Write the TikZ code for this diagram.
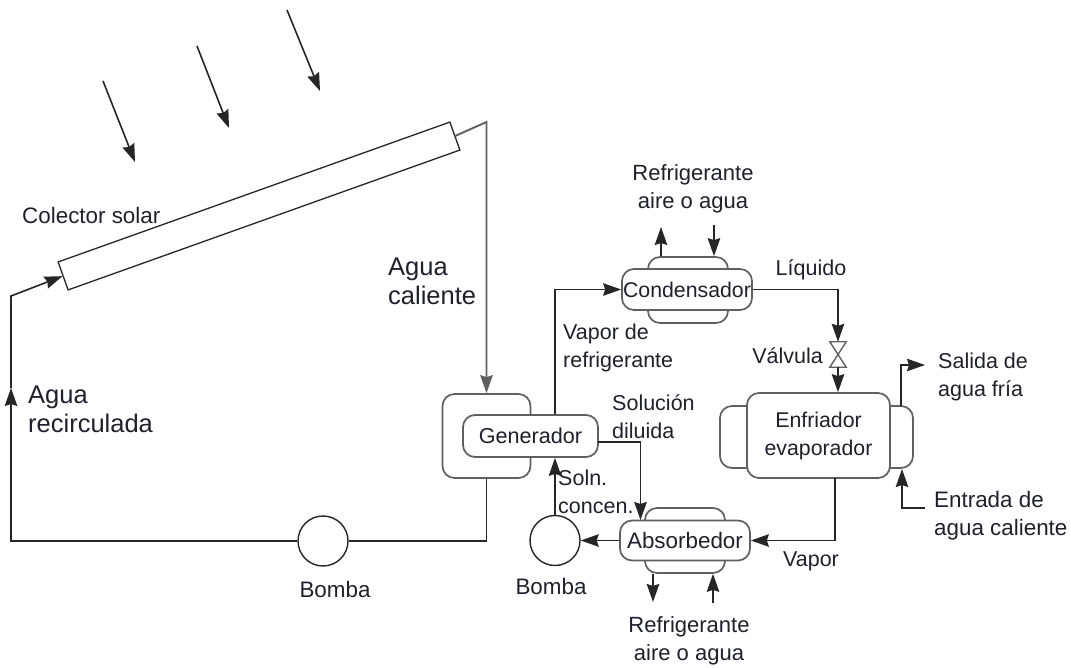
\documentclass[tikz,border=0pt]{standalone}
\usepackage{fontspec}
\setmainfont{Liberation Sans}
\usetikzlibrary{arrows.meta}
\definecolor{boxgray}{HTML}{606060}
\definecolor{linedark}{HTML}{262626}
\definecolor{textdark}{HTML}{20202C}
\tikzset{
    >={Stealth[length=18pt,width=12.5pt,inset=2pt]}, % long thin arrow heads
    pipe/.style={draw=linedark, line width=1.6pt}, % sets the properties for each connector
    tank/.style={draw=boxgray, line width=1.7pt, fill=white, rounded corners=12pt, inner sep=0pt, text=textdark}, % the vessels and their caps
    pump/.style={circle, draw=linedark, line width=1.4pt, fill=white, minimum size=50pt, inner sep=0pt},
    tag/.style={text=textdark, font=\fontsize{21.5}{28}\selectfont, inner sep=0pt, align=left}, % labels
    widetag/.style={tag, font=\fontsize{22.4}{28}\selectfont},
    bigtag/.style={tag, font=\fontsize{25.5}{29}\selectfont},
}

\begin{document}
\begin{tikzpicture}[x=1pt, y=-1pt]
    \useasboundingbox (0,0) rectangle (1071,668);
    % collector and solar rays
    \node[draw=linedark, line width=1.3pt, fill=white, rotate=19.65, minimum width=416pt, minimum height=29.7pt, inner sep=0pt] (coll) at (259,206) {};
    \coordinate (ray1a) at (103,81);
    \coordinate (ray1b) at (135,162);
    \coordinate (ray2a) at (197,46);
    \coordinate (ray2b) at (229,128);
    \coordinate (ray3a) at (287,10);
    \coordinate (ray3b) at (320,91);
    \draw[pipe, ->] (ray1a) -- (ray1b);
    \draw[pipe, ->] (ray2a) -- (ray2b);
    \draw[pipe, ->] (ray3a) -- (ray3b);
    % vessels
    \node[tank, minimum width=88pt, minimum height=84pt] (genout) at (486.5,436) {};
    \node[tank, minimum width=135pt, minimum height=42pt, font=\fontsize{21.6}{25}\selectfont] (gen) at (530.5,436) {Generador};
    \node[tank, minimum width=80pt, minimum height=66pt] (condcap) at (688,290) {};
    \node[tank, minimum width=130pt, minimum height=41pt, font=\fontsize{21.3}{25}\selectfont] (cond) at (687,289.5) {Condensador};
    \node[tank, minimum width=80pt, minimum height=65pt] (abscap) at (685,540.5) {};
    \node[tank, minimum width=130pt, minimum height=40pt, font=\fontsize{22.4}{25}\selectfont] (abs) at (685,540.5) {Absorbedor};
    \node[tank, minimum width=193pt, minimum height=62pt] (evapcap) at (816.5,437) {};
    \node[tank, minimum width=143pt, minimum height=85pt, font=\fontsize{21.3}{28}\selectfont, align=center] (evap) at (818.5,435.5) {Enfriador\\evaporador};
    \node[pump] (pump1) at (323,541) {};
    \node[pump] (pump2) at (555,540.5) {};
    % valve
    \node[minimum width=16pt, minimum height=25pt, inner sep=0pt] (valve) at (838,354.5) {};
    \draw[draw=boxgray, line width=1.4pt] (valve.north west) -- (valve.south east) -- (valve.south west) -- (valve.north east) -- cycle;
    % hot water loop
    \coordinate (loopa) at (11,388);
    \coordinate (loopb) at (11,296);
    \coordinate (loopc) at (486.5,122);
    \draw[pipe, ->] (genout.south) |- (pump1.east) (pump1.west) -| (loopa);
    \draw[pipe, ->] (loopa) -- (loopb) -- (coll.west);
    \draw[draw=boxgray, line width=1.9pt, ->] (coll.east) -- (loopc) -- (genout.north);
    % refrigerant and solution
    \coordinate (solout) at (598,442);
    \coordinate (solin) at (640.5,520);
    \coordinate (evapout) at (835,478);
    \coordinate (condout) at (838,289.5);
    \draw[pipe, ->] (gen.north -| pump2.north) |- (cond.west);
    \draw[pipe, ->] (pump2.north) -- (gen.south -| pump2.north);
    \draw[pipe, ->] (solout) -| (solin);
    \draw[pipe, ->] (abs.west) -- (pump2.east);
    \draw[pipe, ->] (evapout) |- (abs.east);
    \draw[pipe, ->] (cond.east) -- (condout) -- (valve.north);
    \draw[pipe, ->] (valve.south) -- (valve.south |- evap.north);
    % cooling water
    \coordinate (condup) at (661,227);
    \coordinate (conddown) at (714,225);
    \coordinate (absdown) at (653,602);
    \coordinate (absup) at (713,603);
    \coordinate (coldout) at (925,365);
    \coordinate (hotin) at (925,508);
    \draw[pipe, ->] (condup |- condcap.north) -- (condup);
    \draw[pipe, ->] (conddown) -- (conddown |- condcap.north);
    \draw[pipe, ->] (absdown |- abscap.south) -- (absdown);
    \draw[pipe, ->] (absup) -- (absup |- abscap.south);
    \draw[pipe, ->] (901,406) |- (coldout);
    \draw[pipe, ->] (hotin) -| (902,469);
    % labels
    \node[widetag, anchor=west] (lblcoll) at (22,215) {Colector solar};
    \node[bigtag, anchor=west] (lblhot) at (388,281.5) {Agua\\caliente};
    \node[bigtag, anchor=west] (lblback) at (28,409.5) {Agua\\recirculada};
    \node[tag, font=\fontsize{22}{28}\selectfont, align=center] (lblref1) at (693,189) {Refrigerante\\aire o agua};
    \node[tag, font=\fontsize{22}{28}\selectfont, align=center] (lblref2) at (689,641) {Refrigerante\\aire o agua};
    \node[tag] (lblliq) at (811,270) {Líquido};
    \node[tag, anchor=west] (lblvap) at (563,347.5) {Vapor de\\refrigerante};
    \node[tag, anchor=east] (lblvalve) at (823,356) {Válvula};
    \node[tag, anchor=west] (lblsol) at (612,416.5) {Solución\\diluida};
    \node[tag, anchor=west] (lblconc) at (558,492) {Soln.\\concen.};
    \node[widetag] (lblpump1) at (335,589) {Bomba};
    \node[widetag] (lblpump2) at (551,586) {Bomba};
    \node[tag] (lblvapor) at (811,561) {Vapor};
    \node[tag, anchor=west] (lblcold) at (938,376.5) {Salida de\\agua fría};
    \node[widetag, anchor=west] (lblwarm) at (934,515.5) {Entrada de\\agua caliente};
\end{tikzpicture}
\end{document}
